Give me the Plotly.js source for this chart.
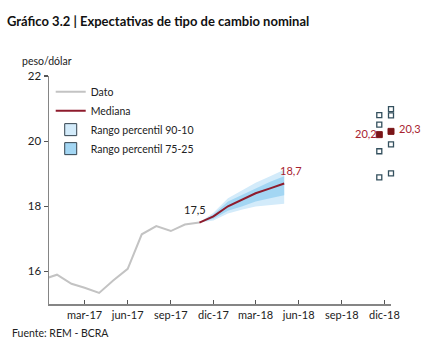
<!DOCTYPE html>
<html>
<head>
<meta charset="utf-8">
<script src="https://cdn.plot.ly/plotly-3.0.1.min.js"></script>
<style>html,body{margin:0;padding:0;background:#fff}#chart{width:433px;height:347px}</style>
</head>
<body>
<div id="chart"></div>
<script>
// Observed exchange rate (Dato)
const datoDates = ['2016-12-01','2017-01-01','2017-02-01','2017-03-01','2017-04-01','2017-05-01','2017-06-01','2017-07-01','2017-08-01','2017-09-01','2017-10-01','2017-11-01'];
const datoValues = [15.75, 15.90, 15.62, 15.50, 15.34, 15.72, 16.08, 17.14, 17.39, 17.24, 17.44, 17.50];

// Expectations (REM)
const fcDates = ['2017-11-01','2017-12-01','2018-01-01','2018-02-01','2018-03-01','2018-04-01','2018-05-01'];
const fcMedian = [17.50, 17.69, 18.00, 18.20, 18.40, 18.55, 18.70];
const fcP90 = [17.50, 17.80, 18.25, 18.50, 18.72, 18.92, 19.12];
const fcP75 = [17.50, 17.75, 18.15, 18.36, 18.56, 18.75, 18.92];
const fcP25 = [17.50, 17.62, 17.86, 18.00, 18.15, 18.25, 18.34];
const fcP10 = [17.50, 17.56, 17.78, 17.90, 17.99, 18.04, 18.08];

// December 2018 expectations (two surveys)
const dec18Dates = ['2018-11-20', '2018-12-15'];
const dec18P90 = [20.80, 20.98];
const dec18P75 = [20.51, 20.79];
const dec18Median = [20.20, 20.30];
const dec18P25 = [19.69, 19.90];
const dec18P10 = [18.89, 19.01];

// Axis ticks
const tickDates = ['2017-03-01','2017-06-01','2017-09-01','2017-12-01','2018-03-01','2018-06-01','2018-09-01','2018-12-01'];
const tickLabels = ['mar-17','jun-17','sep-17','dic-17','mar-18','jun-18','sep-18','dic-18'];
const yTicks = [16, 18, 20, 22];

const FONT = 'Lato, "Open Sans", sans-serif';
const RED = '#8e1b2c';
const RED_TXT = '#a8232f';
const LIGHT = '#d3ebfa';
const MID = '#a3d6f3';
const GRAY = '#c3c3c3';
const SQ = '#34505e';
const BORDER = '#33434e';

const fmt = v => v.toFixed(1).replace('.', ',');

function band(dates, hi, lo) {
  return {
    x: dates.concat(dates.slice().reverse()),
    y: hi.concat(lo.slice().reverse())
  };
}
const b90 = band(fcDates, fcP90, fcP10);
const b75 = band(fcDates, fcP75, fcP25);

const hollowX = [], hollowY = [];
[dec18P90, dec18P75, dec18P25, dec18P10].forEach(arr => {
  arr.forEach((v, i) => { hollowX.push(dec18Dates[i]); hollowY.push(v); });
});

const traces = [
  {x: b90.x, y: b90.y, type: 'scatter', mode: 'lines', fill: 'toself', fillcolor: LIGHT,
   line: {width: 0, color: LIGHT}, showlegend: false, hoverinfo: 'skip'},
  {x: b75.x, y: b75.y, type: 'scatter', mode: 'lines', fill: 'toself', fillcolor: MID,
   line: {width: 0, color: MID}, showlegend: false, hoverinfo: 'skip'},
  {x: datoDates, y: datoValues, type: 'scatter', mode: 'lines', name: 'Dato',
   line: {color: GRAY, width: 2}, legendrank: 1},
  {x: fcDates, y: fcMedian, type: 'scatter', mode: 'lines', name: 'Mediana',
   line: {color: RED, width: 2}, legendrank: 2},
  {x: hollowX, y: hollowY, type: 'scatter', mode: 'markers', showlegend: false, cliponaxis: false,
   marker: {symbol: 'square', size: 5, color: '#ffffff', line: {color: SQ, width: 1.3}}},
  {x: dec18Dates, y: dec18Median, type: 'scatter', mode: 'markers', showlegend: false, cliponaxis: false,
   marker: {symbol: 'square', size: 6, color: '#7a1518', line: {color: '#7a1518', width: 1}}}
];

// Legend keys for the bands: rectangles placed below the visible y range (clipped, not drawn)
const shapes = [
  {type: 'rect', xref: 'x', yref: 'y', x0: fcDates[0], x1: fcDates[1], y0: 10, y1: 11,
   showlegend: true, name: 'Rango percentil 90-10', legendrank: 3,
   fillcolor: LIGHT, line: {color: BORDER, width: 1}},
  {type: 'rect', xref: 'x', yref: 'y', x0: fcDates[0], x1: fcDates[1], y0: 10, y1: 11,
   showlegend: true, name: 'Rango percentil 75-25', legendrank: 4,
   fillcolor: MID, line: {color: BORDER, width: 1}}
];

const lastI = fcDates.length - 1;
const annotations = [
  {xref: 'paper', yref: 'paper', x: -0.085, y: 1.066, xanchor: 'left', yanchor: 'middle',
   text: 'peso/dólar', showarrow: false, font: {family: FONT, size: 10.5, color: '#222'}},
  {xref: 'paper', yref: 'paper', x: -0.114, y: -0.127, xanchor: 'left', yanchor: 'middle',
   text: 'Fuente: REM - BCRA', showarrow: false, font: {family: FONT, size: 10.5, color: '#222'}},
  {x: fcDates[0], y: fcMedian[0], xref: 'x', yref: 'y', text: fmt(fcMedian[0]), showarrow: false,
   xanchor: 'center', yanchor: 'middle', xshift: -4, yshift: 13, font: {family: FONT, size: 11, color: '#222'}},
  {x: fcDates[lastI], y: fcMedian[lastI], xref: 'x', yref: 'y', text: fmt(fcMedian[lastI]), showarrow: false,
   xanchor: 'center', yanchor: 'middle', xshift: 7, yshift: 13, font: {family: FONT, size: 11, color: RED_TXT}},
  {x: dec18Dates[0], y: dec18Median[0], xref: 'x', yref: 'y', text: fmt(dec18Median[0]), showarrow: false,
   xanchor: 'right', yanchor: 'middle', xshift: 0, yshift: 1, font: {family: FONT, size: 11, color: RED_TXT}},
  {x: dec18Dates[1], y: dec18Median[1], xref: 'x', yref: 'y', text: fmt(dec18Median[1]), showarrow: false,
   xanchor: 'left', yanchor: 'middle', xshift: 6, yshift: 3, font: {family: FONT, size: 11, color: RED_TXT}}
];

const layout = {
  width: 433, height: 347,
  margin: {l: 49, r: 42, t: 76, b: 43},
  paper_bgcolor: '#fff', plot_bgcolor: '#fff',
  font: {family: FONT, size: 11, color: '#222'},
  title: {text: 'Gráfico 3.2 | Expectativas de tipo de cambio nominal',
    font: {family: FONT, size: 13, weight: 'bold', color: '#111'},
    xref: 'container', yref: 'container', x: 0.016, xanchor: 'left', y: 0.937, yanchor: 'middle'},
  xaxis: {type: 'date', range: ['2016-12-15', '2018-12-15'], showgrid: false, zeroline: false,
    showline: true, linecolor: '#858585', linewidth: 1.5,
    tickmode: 'array', tickvals: tickDates, ticktext: tickLabels,
    ticks: 'inside', ticklen: 4, tickwidth: 1.2, tickcolor: '#555',
    tickfont: {family: FONT, size: 11, color: '#222'}},
  yaxis: {range: [15, 22], showgrid: false, zeroline: false,
    showline: true, linecolor: '#858585', linewidth: 1.5,
    tickmode: 'array', tickvals: yTicks, ticktext: yTicks.map(String),
    ticks: 'outside', ticklen: 4, tickwidth: 1.2, tickcolor: '#555',
    tickfont: {family: FONT, size: 11.5, color: '#222'}},
  legend: {x: 0.005, y: 0.995, xanchor: 'left', yanchor: 'top', bgcolor: 'rgba(0,0,0,0)',
    font: {family: FONT, size: 10.5, color: '#222'}, itemwidth: 30, tracegroupgap: 0, traceorder: 'normal'},
  shapes: shapes,
  annotations: annotations,
  showlegend: true
};

Plotly.newPlot('chart', traces, layout, {displayModeBar: false, staticPlot: true});
</script>
</body>
</html>
